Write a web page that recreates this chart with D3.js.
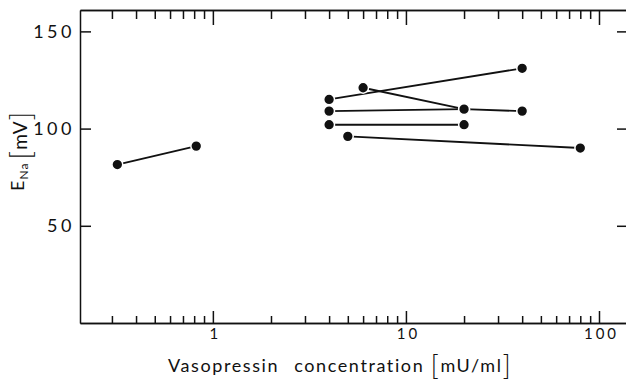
<!DOCTYPE html>
<html>
<head>
<meta charset="utf-8">
<script src="https://cdn.jsdelivr.net/npm/d3@7"></script>
<style>
  body { margin: 0; background: #fff; }
  svg { display: block; }
  text { font-family: Lato, "DejaVu Sans", sans-serif; fill: #111; }
  .axis path, .axis line { stroke: #111; stroke-width: 1.5; }
</style>
</head>
<body>
<div id="chart"></div>
<script>
var svgWidth = 626;
var svgHeight = 380;

// plot box in pixels (the right edge is at the border of the picture)
var margin = { top: 10, right: 0, bottom: 57, left: 80 };
var width = svgWidth - margin.left - margin.right;
var height = svgHeight - margin.top - margin.bottom;

// data: each segment joins (startConc, startEna) to (endConc, endEna)
var startConc = [0.32, 4, 6, 4, 20, 4, 5];
var startEna  = [81.5, 115, 121, 109, 110, 102, 96];
var endConc   = [0.82, 40, 20, 20, 40, 20, 80];
var endEna    = [91, 131, 110, 110, 109, 102, 90];

// tick values
var xMajorTicks = [1, 10, 100];
var xMinorTicks = [0.3, 0.4, 0.5, 0.6, 0.7, 0.8, 0.9,
                   2, 3, 4, 5, 6, 7, 8, 9,
                   20, 30, 40, 50, 60, 70, 80, 90];
var yTicks = [50, 100, 150];

var svg = d3.select("#chart")
  .append("svg")
  .attr("width", svgWidth)
  .attr("height", svgHeight);

var chartGroup = svg.append("g")
  .attr("transform", `translate(${margin.left}, ${margin.top})`);

var xScale = d3.scaleLog()
  .domain([0.205, 138])
  .range([0, width]);

var yScale = d3.scaleLinear()
  .domain([0, 161])
  .range([height, 0]);

// bottom axis, ticks pointing inwards
chartGroup.append("g")
  .attr("class", "axis")
  .attr("transform", `translate(0, ${height})`)
  .call(d3.axisBottom(xScale).tickValues(xMinorTicks).tickSize(-7).tickSizeOuter(0).tickFormat(""));

var xAxisMajor = chartGroup.append("g")
  .attr("class", "axis")
  .attr("transform", `translate(0, ${height})`)
  .call(d3.axisBottom(xScale).tickValues(xMajorTicks).tickSize(-12).tickSizeOuter(0)
    .tickPadding(5).tickFormat(d3.format("d")));
xAxisMajor.selectAll("text").attr("font-size", "15px").attr("letter-spacing", "3px").attr("dx", "2px");

// top axis
chartGroup.append("g")
  .attr("class", "axis")
  .call(d3.axisTop(xScale).tickValues(xMinorTicks).tickSize(-9).tickSizeOuter(0).tickFormat(""));
chartGroup.append("g")
  .attr("class", "axis")
  .call(d3.axisTop(xScale).tickValues(xMajorTicks).tickSize(-15).tickSizeOuter(0).tickFormat(""));

// left axis
var yAxisLeft = chartGroup.append("g")
  .attr("class", "axis")
  .call(d3.axisLeft(yScale).tickValues(yTicks).tickSize(-11).tickSizeOuter(0).tickPadding(5));
yAxisLeft.selectAll("text").attr("font-size", "18px").attr("letter-spacing", "3.5px");

// right axis (only ticks show, the line sits past the picture edge)
var yAxisRight = chartGroup.append("g")
  .attr("class", "axis")
  .attr("transform", `translate(${width}, 0)`)
  .call(d3.axisRight(yScale).tickValues(yTicks).tickSize(-9).tickSizeOuter(0).tickFormat(""));
yAxisRight.select(".domain").remove();

// segments
var segments = startConc.map(function(d, i) {
  return { x1: d, y1: startEna[i], x2: endConc[i], y2: endEna[i] };
});

chartGroup.selectAll(".seg")
  .data(segments)
  .enter()
  .append("line")
  .attr("class", "seg")
  .attr("x1", d => xScale(d.x1))
  .attr("y1", d => yScale(d.y1))
  .attr("x2", d => xScale(d.x2))
  .attr("y2", d => yScale(d.y2))
  .attr("stroke", "#111")
  .attr("stroke-width", 1.9);

// dots at every segment end
var dots = [];
segments.forEach(function(s) {
  dots.push([s.x1, s.y1]);
  dots.push([s.x2, s.y2]);
});

chartGroup.selectAll("circle")
  .data(dots)
  .enter()
  .append("circle")
  .attr("cx", d => xScale(d[0]))
  .attr("cy", d => yScale(d[1]))
  .attr("r", 5.4)
  .attr("fill", "#111")
  .attr("stroke", "#fff")
  .attr("stroke-width", 1.5);

// x axis title
var xTitle = svg.append("text")
  .attr("x", 168)
  .attr("y", 372)
  .attr("font-size", "18px")
  .attr("letter-spacing", "1.6px");
xTitle.append("tspan").text("Vasopressin\u2003concentration ");
xTitle.append("tspan").attr("font-size", "28px").attr("font-weight", 300).attr("dy", "3").text("[");
xTitle.append("tspan").attr("dy", "-3").text("mU/ml");
xTitle.append("tspan").attr("font-size", "28px").attr("font-weight", 300).attr("dy", "3").text("]");

// y axis title, rotated
var yTitle = svg.append("text")
  .attr("transform", "translate(24, 191) rotate(-90)")
  .attr("font-size", "18px")
  .attr("letter-spacing", "1px");
yTitle.append("tspan").text("E");
yTitle.append("tspan").attr("font-size", "12px").attr("dy", "4").text("Na");
yTitle.append("tspan").attr("font-size", "30px").attr("font-weight", 300).attr("dy", "3").attr("dx", "3").text("[");
yTitle.append("tspan").attr("dy", "-4").attr("font-size", "19px").text("mV");
yTitle.append("tspan").attr("font-size", "30px").attr("font-weight", 300).attr("dy", "4").text("]");
</script>
</body>
</html>
